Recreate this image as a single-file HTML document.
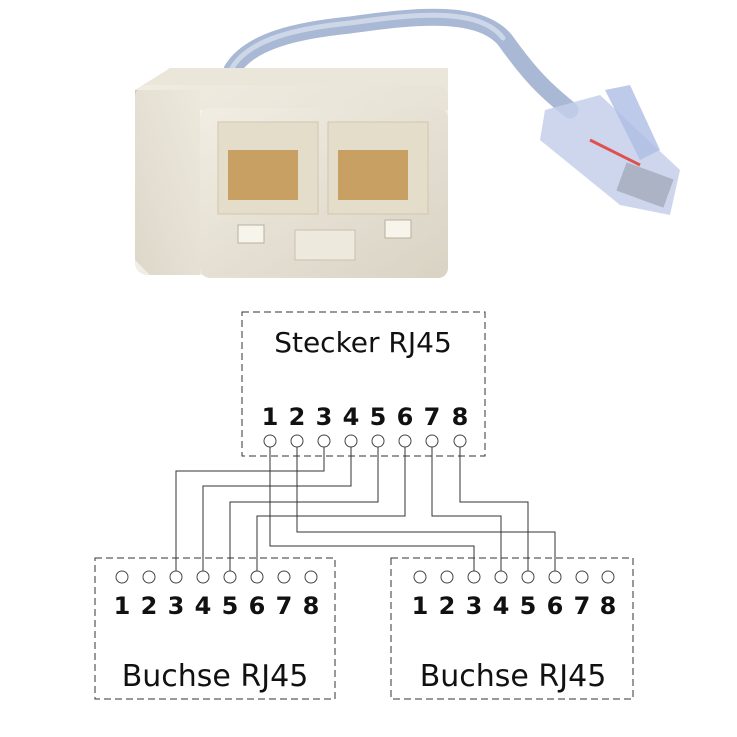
<!DOCTYPE html>
<html><head><meta charset="utf-8"><style>
html,body{margin:0;padding:0;background:#fff}
svg{display:block}
text{font-family:"DejaVu Sans","Liberation Sans",sans-serif;fill:#111}
</style></head><body>
<svg width="737" height="737" viewBox="0 0 737 737" xmlns="http://www.w3.org/2000/svg">
<defs>
<linearGradient id="cream" x1="0" y1="0" x2="1" y2="1"><stop offset="0" stop-color="#f4f0e6"/><stop offset="1" stop-color="#d9d3c4"/></linearGradient>
<linearGradient id="side" x1="0" y1="0" x2="1" y2="0"><stop offset="0" stop-color="#cfc8b8"/><stop offset="1" stop-color="#e8e3d6"/></linearGradient>
</defs>
<path d="M232 70 C250 40 300 30 350 25 C420 15 480 10 505 40 C530 75 545 90 570 110" fill="none" stroke="#a9b8d4" stroke-width="17" stroke-linecap="round"/>
<path d="M232 68 C250 38 300 28 350 23 C420 13 480 8 503 38" fill="none" stroke="#cdd7e8" stroke-width="5" stroke-linecap="round"/>
<polygon points="135,90 170,68 448,68 448,110 135,110" fill="#ebe6da"/>
<polygon points="135,90 200,90 200,275 150,275 135,260" fill="url(#side)"/>
<rect x="200" y="108" width="248" height="170" rx="10" fill="url(#cream)"/>
<rect x="135" y="85" width="313" height="190" rx="12" fill="url(#cream)" opacity="0.6"/>
<rect x="218" y="122" width="100" height="92" fill="#e4ddc9" stroke="#cfc6b0"/>
<rect x="328" y="122" width="100" height="92" fill="#e4ddc9" stroke="#cfc6b0"/>
<rect x="228" y="150" width="70" height="50" fill="#c9a063"/>
<rect x="338" y="150" width="70" height="50" fill="#c9a063"/>
<rect x="238" y="225" width="26" height="18" fill="#f7f4ec" stroke="#b9b1a0"/>
<rect x="295" y="230" width="60" height="30" fill="#eee9dd" stroke="#c9c1b0"/>
<rect x="385" y="220" width="26" height="18" fill="#f7f4ec" stroke="#b9b1a0"/>
<polygon points="545,110 600,95 680,170 670,215 620,205 540,140" fill="#c4cfea" opacity="0.85"/>
<polygon points="605,90 630,85 660,150 640,160" fill="#aebde3" opacity="0.8"/>
<rect x="620" y="170" width="50" height="30" fill="#8a8f9c" opacity="0.5" transform="rotate(20 645 185)"/>
<path d="M590 140 L640 165" stroke="#e05050" stroke-width="3"/>

<g fill="none" stroke="#333" stroke-width="1" stroke-dasharray="7,4">
<rect x="242" y="312" width="243" height="144"/>
<rect x="95" y="558" width="240" height="141"/>
<rect x="391" y="558" width="242" height="141"/>
</g>
<text x="363" y="352" font-size="28" text-anchor="middle">Stecker RJ45</text>
<text x="215" y="686" font-size="30" text-anchor="middle">Buchse RJ45</text>
<text x="513" y="686" font-size="30" text-anchor="middle">Buchse RJ45</text>
<g font-size="24" font-weight="bold" text-anchor="middle">
<text x="270" y="425">1</text><text x="297" y="425">2</text><text x="324" y="425">3</text><text x="351" y="425">4</text><text x="378" y="425">5</text><text x="405" y="425">6</text><text x="432" y="425">7</text><text x="460" y="425">8</text>
<text x="122" y="614">1</text><text x="149" y="614">2</text><text x="176" y="614">3</text><text x="203" y="614">4</text><text x="230" y="614">5</text><text x="257" y="614">6</text><text x="284" y="614">7</text><text x="311" y="614">8</text>
<text x="420" y="614">1</text><text x="447" y="614">2</text><text x="474" y="614">3</text><text x="501" y="614">4</text><text x="528" y="614">5</text><text x="555" y="614">6</text><text x="582" y="614">7</text><text x="608" y="614">8</text>
</g>
<g fill="none" stroke="#333" stroke-width="1">
<polyline points="324,441 324,471 176,471 176,577"/>
<polyline points="351,441 351,486 203,486 203,577"/>
<polyline points="378,441 378,502 230,502 230,577"/>
<polyline points="405,441 405,516 257,516 257,577"/>
<polyline points="270,441 270,546 474,546 474,577"/>
<polyline points="297,441 297,532 555,532 555,577"/>
<polyline points="432,441 432,516 501,516 501,577"/>
<polyline points="460,441 460,502 528,502 528,577"/>
</g>
<g fill="#fff" stroke="#444" stroke-width="1">
<circle cx="270" cy="441" r="6"/><circle cx="297" cy="441" r="6"/><circle cx="324" cy="441" r="6"/><circle cx="351" cy="441" r="6"/><circle cx="378" cy="441" r="6"/><circle cx="405" cy="441" r="6"/><circle cx="432" cy="441" r="6"/><circle cx="460" cy="441" r="6"/>
<circle cx="122" cy="577" r="6"/><circle cx="149" cy="577" r="6"/><circle cx="176" cy="577" r="6"/><circle cx="203" cy="577" r="6"/><circle cx="230" cy="577" r="6"/><circle cx="257" cy="577" r="6"/><circle cx="284" cy="577" r="6"/><circle cx="311" cy="577" r="6"/>
<circle cx="420" cy="577" r="6"/><circle cx="447" cy="577" r="6"/><circle cx="474" cy="577" r="6"/><circle cx="501" cy="577" r="6"/><circle cx="528" cy="577" r="6"/><circle cx="555" cy="577" r="6"/><circle cx="582" cy="577" r="6"/><circle cx="608" cy="577" r="6"/>
</g>
</svg>
</body></html>
